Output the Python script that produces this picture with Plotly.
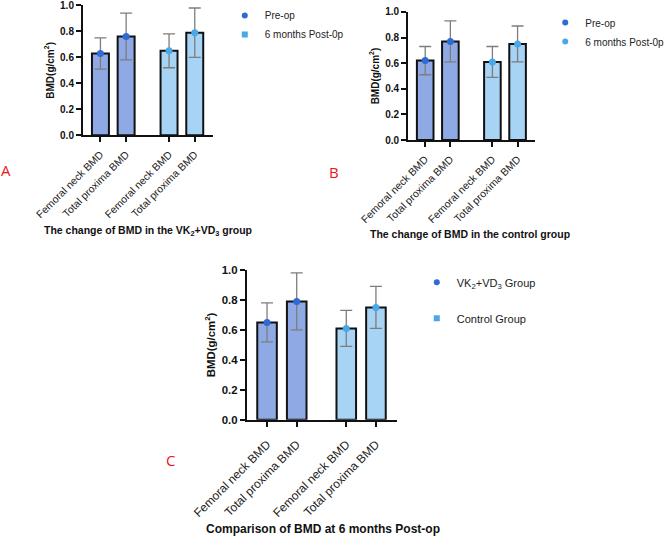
import plotly.graph_objects as go

categories = ["Femoral neck BMD", "Total proxima BMD", "Femoral neck BMD", "Total proxima BMD"]

# Panel A: VK2+VD3 group (Pre-op vs 6 months Post-op)
a_means = [0.63, 0.76, 0.65, 0.79]
a_err = [0.12, 0.18, 0.13, 0.19]
# Panel B: control group
b_means = [0.62, 0.77, 0.61, 0.75]
b_err = [0.11, 0.16, 0.12, 0.14]
# Panel C: comparison at 6 months post-op
c_means = [0.65, 0.79, 0.61, 0.75]
c_err = [0.13, 0.19, 0.12, 0.14]

y_ticks = [0.0, 0.2, 0.4, 0.6, 0.8, 1.0]
y_tick_text = ["0.0", "0.2", "0.4", "0.6", "0.8", "1.0"]

legend_a = ["Pre-op", "6 months Post-0p"]
legend_b = ["Pre-op", "6 months Post-0p"]
legend_c = ["VK<sub>2</sub>+VD<sub>3</sub> Group", "Control Group"]

titles = [
    "The change of BMD in the VK<sub>2</sub>+VD<sub>3</sub> group",
    "The change of BMD in the control group",
    "Comparison of BMD at 6 months Post-op",
]

BAR_DARK = "#8fa9e4"
BAR_LIGHT = "#a7d3f4"
PT_DARK = "#2f6bd6"
PT_LIGHT = "#49a8ea"
FONT = "Liberation Sans, Arial, sans-serif"

# group layout: two bars per group, with a wider gap between groups
GROUP_GAP = 0.67
xpos = [i + GROUP_GAP * (i // 2) for i in range(len(categories))]

fig = go.Figure()

panels = [
    dict(means=a_means, err=a_err, xa="x", ya="y", legend="legend", names=legend_a,
         symbols=["circle", "square"], dom_x=[0.124, 0.318], dom_y=[0.750, 0.990], fs=1.0),
    dict(means=b_means, err=b_err, xa="x2", ya="y2", legend="legend2", names=legend_b,
         symbols=["circle", "circle"], dom_x=[0.610, 0.800], dom_y=[0.741, 0.978], fs=1.0),
    dict(means=c_means, err=c_err, xa="x3", ya="y3", legend="legend3", names=legend_c,
         symbols=["circle", "square"], dom_x=[0.369, 0.593], dom_y=[0.224, 0.501], fs=1.14),
]

for p in panels:
    fig.add_trace(go.Bar(
        x=xpos, y=p["means"], xaxis=p["xa"], yaxis=p["ya"], width=0.66,
        marker=dict(color=[BAR_DARK, BAR_DARK, BAR_LIGHT, BAR_LIGHT],
                    line=dict(color="#111111", width=2)),
        showlegend=False, hoverinfo="skip",
    ))
    pt_colors = [PT_DARK, PT_DARK, PT_LIGHT, PT_LIGHT]
    fig.add_trace(go.Scatter(
        x=xpos, y=p["means"], xaxis=p["xa"], yaxis=p["ya"], mode="markers",
        marker=dict(color=pt_colors, size=7),
        error_y=dict(type="data", array=p["err"], color="#7d7d7d", thickness=1.3, width=6),
        showlegend=False,
    ))
    for k, nm in enumerate(p["names"]):
        fig.add_trace(go.Scatter(
            x=[None], y=[None], xaxis=p["xa"], yaxis=p["ya"], mode="markers", name=nm,
            marker=dict(color=[PT_DARK, PT_LIGHT][k], size=6, symbol=p["symbols"][k]),
            legend=p["legend"], legendgroup=p["legend"] + str(k),
        ))

def xaxis(dom, anchor, fs, standoff):
    return dict(domain=dom, anchor=anchor, range=[-0.68, 4.37], tickvals=xpos, ticktext=categories,
                tickangle=-45, showline=True, linecolor="#111111", linewidth=2,
                ticks="outside", ticklen=5, tickwidth=1.5, tickcolor="#111111", automargin=False,
                ticklabelstandoff=standoff, ticklabeloverflow="allow",
                showgrid=False, zeroline=False, tickfont=dict(size=10.5 * fs, color="#222222", family=FONT))

def yaxis(dom, anchor, fs):
    return dict(domain=dom, anchor=anchor, range=[0, 1.0], tickvals=y_ticks,
                ticktext=["<b>%s</b>" % t for t in y_tick_text], ticklabeloverflow="allow",
                showline=True, linecolor="#111111", linewidth=2, automargin=False,
                ticks="outside", ticklen=5, tickwidth=1.5, tickcolor="#111111",
                showgrid=False, zeroline=False, tickfont=dict(size=10 * fs, color="#111111", family=FONT),
                title=dict(text="<b>BMD(g/cm<sup>2</sup>)</b>", font=dict(size=10 * fs, color="#111111", family=FONT),
                           standoff=4))

fig.update_layout(
    width=669, height=541, autosize=False,
    margin=dict(l=0, r=0, t=0, b=0, pad=0, autoexpand=False),
    paper_bgcolor="white", plot_bgcolor="white",
    font=dict(family=FONT, color="#111111"),
    xaxis=xaxis(panels[0]["dom_x"], "y", 1.0, 2), yaxis=yaxis(panels[0]["dom_y"], "x", 1.0),
    xaxis2=xaxis(panels[1]["dom_x"], "y2", 1.0, 2), yaxis2=yaxis(panels[1]["dom_y"], "x2", 1.0),
    xaxis3=xaxis(panels[2]["dom_x"], "y3", 1.14, 6), yaxis3=yaxis(panels[2]["dom_y"], "x3", 1.14),
    legend=dict(x=0.336, y=0.998, xanchor="left", yanchor="top", bgcolor="rgba(0,0,0,0)",
                font=dict(size=10, color="#222222"), tracegroupgap=0, itemwidth=30),
    legend2=dict(x=0.815, y=0.985, xanchor="left", yanchor="top", bgcolor="rgba(0,0,0,0)",
                 font=dict(size=10, color="#222222"), tracegroupgap=0, itemwidth=30),
    legend3=dict(x=0.623, y=0.505, xanchor="left", yanchor="top", bgcolor="rgba(0,0,0,0)",
                 font=dict(size=11, color="#222222"), tracegroupgap=17, itemwidth=30),
)

title_pos = [(148, 231, 10.5), (470, 234, 10.5), (323, 529, 12)]
for t, (px, py, fsz) in zip(titles, title_pos):
    fig.add_annotation(text="<b>%s</b>" % t, x=px / 669, y=1 - py / 541, xref="paper", yref="paper",
                       showarrow=False, xanchor="center", yanchor="middle",
                       font=dict(size=fsz, color="#111111", family=FONT))

for lbl, (px, py) in zip(["A", "B", "C"], [(6, 170), (334, 172), (170, 460)]):
    fig.add_annotation(text=lbl, x=px / 669, y=1 - py / 541, xref="paper", yref="paper",
                       showarrow=False, xanchor="center", yanchor="middle",
                       font=dict(size=15, color="#e8141c", family="Open Sans, sans-serif"))

fig.write_html("out.html", config={"displayModeBar": False},
               post_script="document.body.style.margin='0';")
